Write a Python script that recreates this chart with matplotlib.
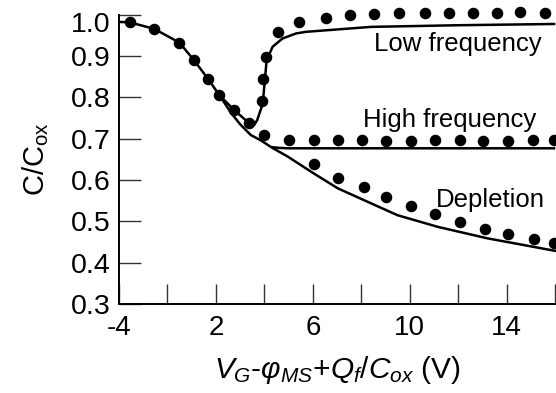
import matplotlib
matplotlib.use('Agg')
import matplotlib.pyplot as plt
import matplotlib.transforms as mtransforms

plt.rcParams['font.family'] = 'Liberation Sans'
plt.rcParams['mathtext.fontset'] = 'custom'
plt.rcParams['mathtext.rm'] = 'Liberation Sans'
plt.rcParams['mathtext.it'] = 'Liberation Sans:italic'
plt.rcParams['mathtext.bf'] = 'Liberation Sans:bold'

# --- solid curves ---
common_x = [-2.0, -1.55, -0.54, 0.49, 1.1, 1.66, 2.14]
common_y = [0.983, 0.982, 0.966, 0.933, 0.89, 0.846, 0.806]

lf_x = [2.14, 2.74, 3.31, 3.57, 3.7, 3.93, 4.03, 4.09, 4.34, 4.75, 5.3, 5.71, 8.4, 12.0, 16.0]
lf_y = [0.806, 0.770, 0.741, 0.733, 0.745, 0.785, 0.85, 0.89, 0.923, 0.943, 0.955, 0.959, 0.971, 0.975, 0.978]

low_x = [2.14, 2.62, 3.0, 3.44, 3.86, 4.27]
low_y = [0.806, 0.763, 0.735, 0.709, 0.696, 0.680]

hf_x = [4.27, 4.6, 5.0, 16.0]
hf_y = [0.680, 0.678, 0.677, 0.677]

dep_x = [4.27, 4.96, 6.04, 7.03, 8.39, 9.49, 11.14, 13.2, 16.06]
dep_y = [0.680, 0.657, 0.616, 0.58, 0.544, 0.515, 0.487, 0.459, 0.428]

# --- measured points ---
pts_common_x = [-1.55, -0.54, 0.49, 1.1, 1.66, 2.14, 2.74, 3.38]
pts_common_y = [0.982, 0.965, 0.933, 0.89, 0.846, 0.806, 0.769, 0.738]

pts_lf_x = [3.90, 3.95, 4.06, 4.54, 5.43, 6.54, 7.54, 8.53, 9.56, 10.62, 11.62, 12.61, 13.59, 14.55, 15.57]
pts_lf_y = [0.792, 0.846, 0.899, 0.959, 0.984, 0.992, 1.0, 1.002, 1.004, 1.004, 1.004, 1.004, 1.004, 1.006, 1.005]

pts_hf_x = [3.99, 5.02, 6.03, 7.02, 8.01, 9.01, 10.04, 11.03, 12.06, 13.02, 14.07, 15.08, 15.95]
pts_hf_y = [0.71, 0.698, 0.697, 0.697, 0.697, 0.695, 0.695, 0.697, 0.697, 0.695, 0.695, 0.697, 0.697]

pts_dep_x = [6.03, 7.02, 8.09, 9.03, 10.04, 11.04, 12.07, 13.1, 14.07, 15.13, 15.95]
pts_dep_y = [0.638, 0.606, 0.584, 0.559, 0.537, 0.517, 0.498, 0.481, 0.469, 0.457, 0.448]

xticks = [-2, 0, 2, 4, 6, 8, 10, 12, 14, 16]
xticklabels = ['-4', '', '2', '', '6', '', '10', '', '14', '']
yticks = [0.3, 0.4, 0.5, 0.6, 0.7, 0.8, 0.9, 1.0]

fig = plt.figure(figsize=(5.56, 3.93), dpi=100)
ax = fig.add_axes([119 / 556, 89 / 393, 437 / 556, 289.1 / 393])

lw = 1.8
for xs, ys in [(common_x, common_y), (lf_x, lf_y), (low_x, low_y), (hf_x, hf_y), (dep_x, dep_y)]:
    ax.plot(xs, ys, color='black', lw=lw, solid_capstyle='butt', clip_on=False)

for xs, ys in [(pts_common_x, pts_common_y), (pts_lf_x, pts_lf_y),
               (pts_hf_x, pts_hf_y), (pts_dep_x, pts_dep_y)]:
    ax.plot(xs, ys, 'o', color='black', ms=7.3, clip_on=False, zorder=3)

ax.set_xlim(-2, 16.03)
ax.set_ylim(0.3, 1.0)
ax.set_xticks(xticks)
ax.set_xticklabels(xticklabels)
ax.set_yticks(yticks)
ax.set_yticklabels([f'{v:.1f}' for v in yticks])

ax.spines['top'].set_visible(False)
ax.spines['right'].set_visible(False)
ax.spines['left'].set_linewidth(1.4)
ax.spines['bottom'].set_linewidth(1.4)
ax.tick_params(axis='x', direction='in', length=14.5, width=1.0, color='#333333',
               labelsize=20, pad=8)
ax.tick_params(axis='y', direction='in', length=16, width=1.0, color='#333333',
               labelsize=20.5, pad=6)

# the "1.0" label sits a little below its tick in the original
shift = mtransforms.ScaledTranslation(0, -5 / 72, fig.dpi_scale_trans)
for lab in ax.get_yticklabels():
    if lab.get_text() == '1.0':
        lab.set_transform(lab.get_transform() + shift)

ax.text(8.52, 0.913, 'Low frequency', fontsize=18.5, ha='left', va='baseline')
ax.text(8.05, 0.729, 'High frequency', fontsize=18.5, ha='left', va='baseline')
ax.text(11.07, 0.534, 'Depletion', fontsize=18.5, ha='left', va='baseline')

ax.set_ylabel(r'C/C$_{\mathrm{ox}}$', fontsize=21, labelpad=14)
ax.set_xlabel(r'$V_G$-$\varphi_{MS}$+$Q_f/C_{ox}$ (V)', fontsize=21.5, labelpad=9)

fig.savefig('out.png', dpi=100)
